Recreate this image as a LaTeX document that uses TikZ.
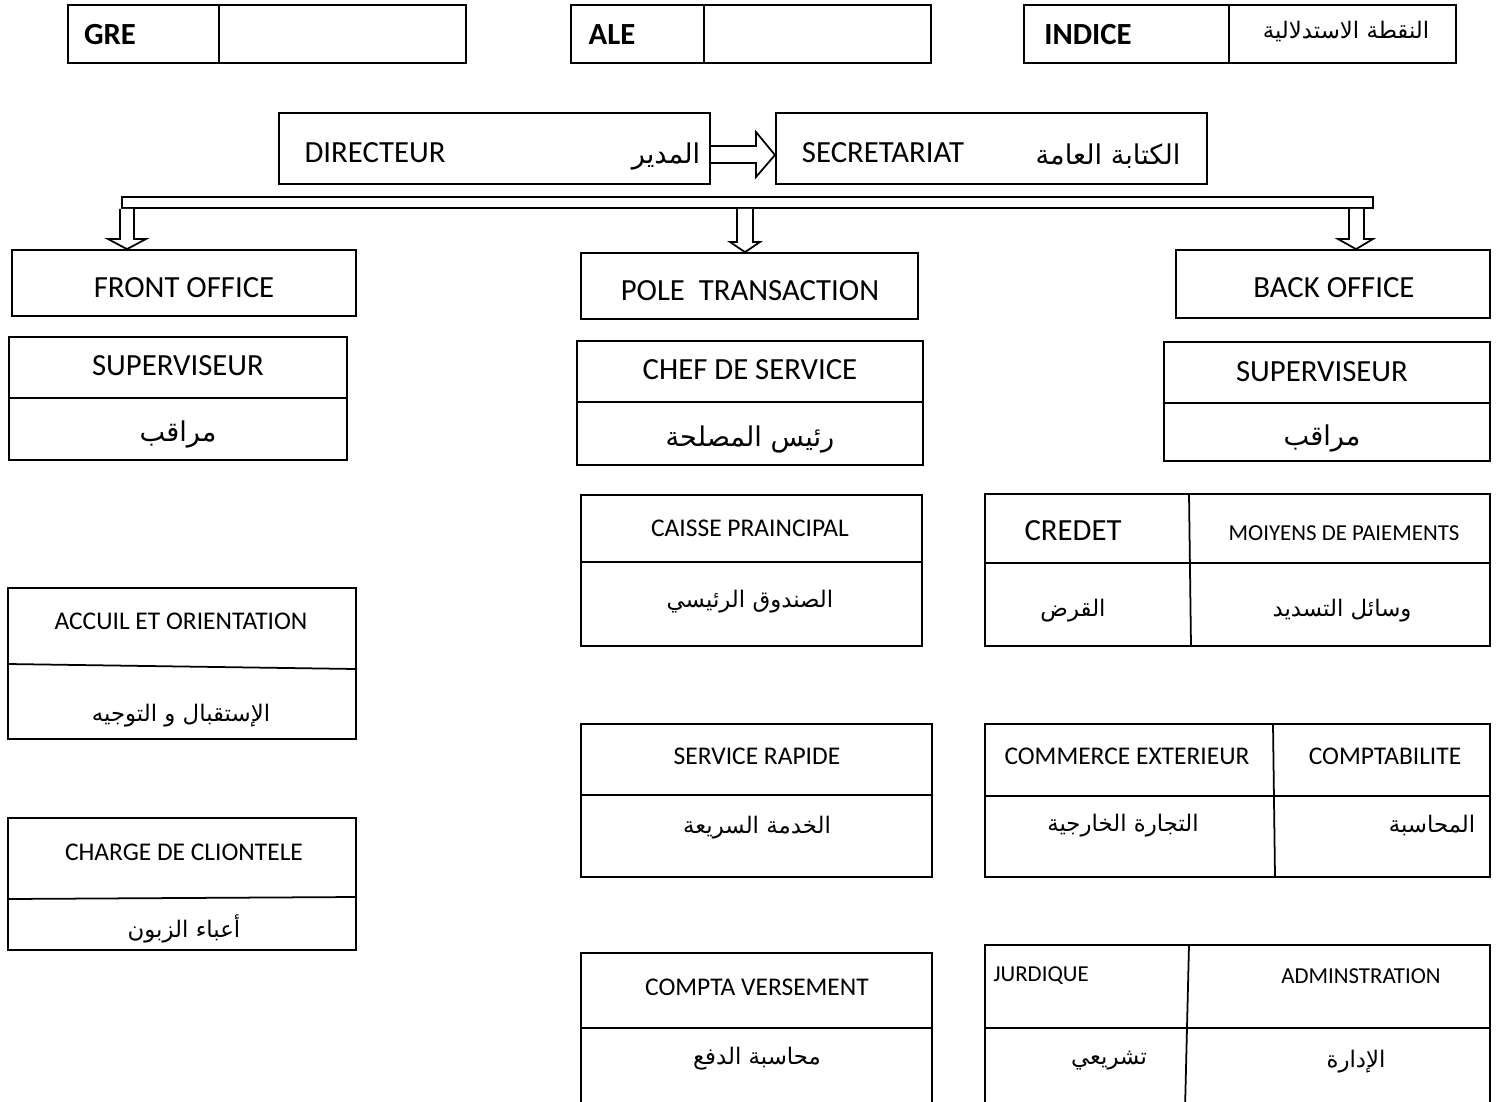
\documentclass[tikz,border=0pt]{standalone}
\usepackage{fontspec}
\setmainfont{Carlito}
\newfontfamily\arabicfont[Script=Arabic]{DejaVu Sans}
\TeXXeTstate=1
\usetikzlibrary{fit,calc}
\newcommand{\AR}[1]{{\arabicfont\beginR #1\endR}}
\tikzset{
  box/.style={draw, line width=1pt, inner sep=0pt},
  tbox/.style={draw, line width=1.4pt, inner sep=0pt},
  big/.style={inner sep=0pt, font=\fontsize{17.5}{20}\selectfont},
  bigb/.style={inner sep=0pt, font=\fontsize{17.5}{20}\selectfont\bfseries},
  sml/.style={inner sep=0pt, font=\fontsize{14.5}{17}\selectfont},
  xsml/.style={inner sep=0pt, font=\fontsize{13}{15}\selectfont},
  arb/.style={inner sep=0pt, yshift=-2pt, font=\fontsize{15.5}{18}\selectfont},
  ars/.style={inner sep=0pt, yshift=-2pt, font=\fontsize{13}{15}\selectfont},
  div/.style={line width=1pt},
  hollow/.style={draw, line width=1pt, fill=white, line join=miter},
}
\begin{document}
\begin{tikzpicture}[x=0.02cm, y=-0.02cm]
\useasboundingbox (0,0) rectangle (1501,1102);
\clip (0,0) rectangle (1501,1102);
\fill[white] (0,0) rectangle (1501,1102);

% top row
\node[tbox, fit={(68,5) (466,63)}] (gre) {};
\draw[div] (219,5) -- (219,63);
\node[bigb] (greT) at (110,35) {GRE};
\node[tbox, fit={(571,5) (931,63)}] (ale) {};
\draw[div] (704,5) -- (704,63);
\node[bigb] (aleT) at (612,35) {ALE};
\node[tbox, fit={(1024,5) (1456,63)}] (ind) {};
\draw[div] (1229,5) -- (1229,63);
\node[bigb] (indT) at (1088,35) {INDICE};
\node[ars] (indA) at (1346,28) {\AR{النقطة الاستدلالية}};

% director row
\node[box, line width=1.2pt, fit={(279,113) (710,184)}] (dir) {};
\node[big] (dirT) at (375,153) {DIRECTEUR};
\node[arb] (dirA) at (666,153) {\AR{المدير}};
\node[box, line width=1.2pt, fit={(776,113) (1207,184)}] (sec) {};
\node[big] (secT) at (883,153) {SECRETARIAT};
\node[arb] (secA) at (1108,153) {\AR{الكتابة العامة}};
\draw[hollow] (dir.east |- 0,146) -- (756,146) -- (756,132) -- (sec.west |- 0,155) -- (756,177) -- (756,163) -- (dir.east |- 0,163);

% bar
\node[box, fit={(122,197) (1373,208)}] (bar) {};

% level 2
\node[box, fit={(12,250) (356,316)}] (fo) {};
\node[big] (foT) at (184,288) {FRONT OFFICE};
\node[box, fit={(581,253) (918,319)}] (pt) {};
\node[big] (ptT) at (750,291) {POLE\ \ TRANSACTION};
\node[box, fit={(1176,250) (1490,318)}] (bo) {};
\node[big] (boT) at (1334,288) {BACK OFFICE};

% arrows from bar
\draw[hollow] (bar.south -| 120,0) -- (120,239) -- (108,239) -- (fo.north -| 127,0) -- (146,239) -- (134,239) -- (bar.south -| 134,0);
\draw[hollow] (bar.south -| 737,0) -- (737,242) -- (730,242) -- (pt.north -| 745,0) -- (760,242) -- (753,242) -- (bar.south -| 753,0);
\draw[hollow] (bar.south -| 1349,0) -- (1349,239) -- (1338,239) -- (bo.north -| 1356,0) -- (1373,239) -- (1364,239) -- (bar.south -| 1364,0);

% level 3
\node[tbox, fit={(9,337) (347,460)}] (sv1) {};
\draw[div, line width=1.3pt] (9,398) -- (347,398);
\node[big] (sv1T) at (178,366) {SUPERVISEUR};
\node[arb] (sv1A) at (178,431) {\AR{مراقب}};

\node[tbox, fit={(577,341) (923,465)}] (chef) {};
\draw[div, line width=1.3pt] (577,402) -- (923,402);
\node[big] (chefT) at (750,370) {CHEF DE SERVICE};
\node[arb] (chefA) at (750,436) {\AR{رئيس المصلحة}};

\node[tbox, fit={(1164,342) (1490,461)}] (sv2) {};
\draw[div, line width=1.3pt] (1164,403) -- (1490,403);
\node[big] (sv2T) at (1322,372) {SUPERVISEUR};
\node[arb] (sv2A) at (1322,435) {\AR{مراقب}};

% left column
\node[box, fit={(8,588) (356,739)}] (acc) {};
\draw[div] (8,664) -- (356,669);
\node[sml] (accT) at (181,621) {ACCUIL ET ORIENTATION};
\node[ars] (accA) at (181,712) {\AR{الإستقبال و التوجيه}};

\node[box, fit={(8,818) (356,950)}] (chg) {};
\draw[div] (8,899) -- (356,897);
\node[sml] (chgT) at (184,852) {CHARGE DE CLIONTELE};
\node[ars] (chgA) at (184,925) {\AR{أعباء الزبون}};

% middle column
\node[box, fit={(581,495) (922,646)}] (cai) {};
\draw[div] (581,562) -- (922,562);
\node[sml] (caiT) at (750,528) {CAISSE PRAINCIPAL};
\node[ars] (caiA) at (750,598) {\AR{الصندوق الرئيسي}};

\node[box, fit={(581,724) (932,877)}] (rap) {};
\draw[div] (581,795) -- (932,795);
\node[sml] (rapT) at (757,756) {SERVICE RAPIDE};
\node[ars] (rapA) at (757,824) {\AR{الخدمة السريعة}};

\node[box, fit={(581,953) (932,1110)}] (cv) {};
\draw[div] (581,1028) -- (932,1028);
\node[sml] (cvT) at (757,987) {COMPTA VERSEMENT};
\node[ars] (cvA) at (757,1055) {\AR{محاسبة الدفع}};

% right column
\node[box, fit={(985,494) (1490,646)}] (cre) {};
\draw[div] (985,563) -- (1490,563);
\draw[div] (1189,494) -- (1191,646);
\node[big] (creT) at (1073,531) {CREDET};
\node[xsml] (moyT) at (1344,533) {MOIYENS DE PAIEMENTS};
\node[ars] (creA) at (1073,607) {\AR{القرض}};
\node[ars] (moyA) at (1342,607) {\AR{وسائل التسديد}};

\node[box, fit={(985,724) (1490,877)}] (com) {};
\draw[div] (985,796) -- (1490,796);
\draw[div] (1273,724) -- (1275,877);
\node[sml] (comT) at (1127,756) {COMMERCE EXTERIEUR};
\node[sml] (cptT) at (1385,756) {COMPTABILITE};
\node[ars] (comA) at (1123,822) {\AR{التجارة الخارجية}};
\node[ars] (cptA) at (1432,822) {\AR{المحاسبة}};

\node[box, fit={(985,945) (1490,1110)}] (jur) {};
\draw[div] (985,1028) -- (1490,1028);
\draw[div] (1189,945) -- (1185,1110);
\node[xsml] (jurT) at (1041,976) {JURDIQUE};
\node[xsml] (admT) at (1361,976) {ADMINSTRATION};
\node[ars] (jurA) at (1109,1057) {\AR{تشريعي}};
\node[ars] (admA) at (1356,1058) {\AR{الإدارة}};
\end{tikzpicture}
\end{document}
